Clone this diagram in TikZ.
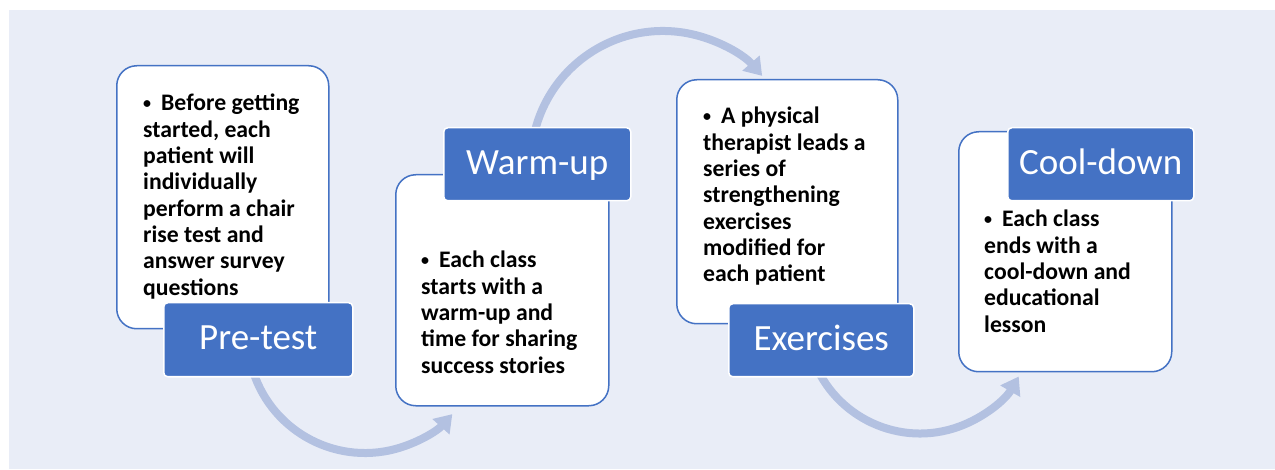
\documentclass[tikz,border=0pt]{standalone}
\usepackage{fontspec}
\setmainfont{Carlito}
\usetikzlibrary{arrows.meta}
\definecolor{bg}{HTML}{E9EDF7}
\definecolor{accent}{HTML}{4472C4}
\definecolor{arrowc}{HTML}{B3C1E1}
\newcommand\bodytxt[1]{\parbox[t]{240pt}{\fontsize{23.7}{26.3}\selectfont\bfseries\raggedright #1}}
\newcommand\bul{\makebox[18pt][l]{\raisebox{2pt}{\fontsize{16}{16}\selectfont •}}}
\begin{document}
\begin{tikzpicture}[x=1pt,y=1pt,
  textbox/.style={draw=accent, line width=1.5pt, fill=white, rounded corners=20pt, anchor=north west, inner sep=0pt},
  labelbox/.style={draw=white, line width=1.5pt, fill=accent, rounded corners=4pt, anchor=north west, inner sep=0pt},
  labeltext/.style={text=white, font=\fontsize{37}{40}\selectfont, anchor=base, inner sep=0pt},
  bodytext/.style={anchor=base west, inner sep=0pt, text=black},
  flow/.style={draw=arrowc, line width=8pt, -{Triangle[width=22pt,length=17pt]}}
]
\useasboundingbox (0,0) rectangle (1275,469);
\fill[bg] (9,0) rectangle (1275,459);

% arcs
\draw[flow] (365,133.5) ++(195:117.5) arc[start angle=195, end angle=318, radius=117.5pt];
\draw[flow] (663,306) ++(168:132) arc[start angle=168, end angle=41.3, radius=132pt];
\draw[flow] (920,149.5) ++(200:114) arc[start angle=200, end angle=330, radius=114pt];

% text boxes
\node[textbox, minimum width=212pt, minimum height=263pt] (b1) at (116,404) {};
\node[textbox, minimum width=213pt, minimum height=231pt] (b2) at (395,295) {};
\node[textbox, minimum width=221pt, minimum height=244pt] (b3) at (676,390) {};
\node[textbox, minimum width=213pt, minimum height=240pt] (b4) at (958,338) {};

\node[bodytext] (t1) at (143,358) {\bodytxt{\bul Before getting\\ started, each\\ patient will\\ individually\\ perform a chair\\ rise test and\\ answer survey\\ questions}};
\node[bodytext] (t2) at (421,201) {\bodytxt{\bul Each class\\ starts with a\\ warm-up and\\ time for sharing\\ success stories}};
\node[bodytext] (t3) at (703,345) {\bodytxt{\bul A physical\\ therapist leads a\\ series of\\ strengthening\\ exercises\\ modified for\\ each patient}};
\node[bodytext] (t4) at (984,242) {\bodytxt{\bul Each class\\ ends with a\\ cool-down and\\ educational\\ lesson}};

% labels
\node[labelbox, minimum width=189pt, minimum height=74pt] (l1) at (163,167) {};
\node[labelbox, minimum width=187pt, minimum height=73pt] (l2) at (443,342) {};
\node[labelbox, minimum width=185pt, minimum height=73pt] (l3) at (728,166) {};
\node[labelbox, minimum width=186pt, minimum height=73pt] (l4) at (1007,342) {};

\node[labeltext] (lt1) at ([yshift=-10pt]l1.center) {Pre-test};
\node[labeltext] (lt2) at ([yshift=-10pt]l2.center) {Warm-up};
\node[labeltext] (lt3) at ([yshift=-10pt]l3.center) {Exercises};
\node[labeltext] (lt4) at ([yshift=-10pt]l4.center) {Cool-down};
\end{tikzpicture}
\end{document}
